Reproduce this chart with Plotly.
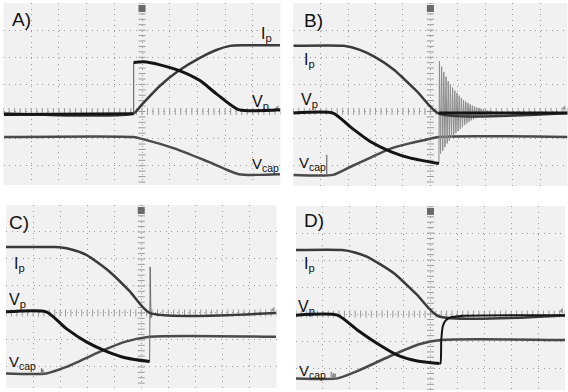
import numpy as np
import plotly.graph_objects as go

# ---------------- data (oscilloscope divisions) ----------------
# Panel A
a_vp_x = [-4.98, -0.30, -0.30, 0.05, 0.65, 1.37, 2.09, 2.69, 3.48, 4.98]
a_vp_y = [-0.11, -0.08, 1.81, 1.83, 1.72, 1.50, 1.14, 0.65, 0.07, 0.06]
a_ip_x = [-4.98, -0.30, 0.0, 0.65, 1.32, 2.09, 2.64, 3.18, 3.72, 4.98]
a_ip_y = [-0.07, -0.07, 0.26, 0.95, 1.50, 1.98, 2.25, 2.42, 2.44, 2.44]
a_vc_x = [-4.98, -0.31, 0.0, 1.19, 2.41, 3.49, 4.98]
a_vc_y = [-0.94, -0.94, -1.01, -1.37, -1.86, -2.31, -2.31]

# Panel B
b_ip_x = [-5.0, -3.16, -2.57, -2.03, -1.33, -0.48, 0.31, 5.0]
b_ip_y = [2.42, 2.42, 2.27, 2.01, 1.54, 0.73, -0.08, -0.06]
b_vp_x = [-5.0, -3.55, -2.91, -2.18, -1.45, -0.72, 0.31]
b_vp_y = [-0.06, -0.06, -0.58, -1.12, -1.48, -1.72, -1.92]
b_ring_x = [0.31, 0.33, 0.37, 0.41, 0.45, 0.49, 0.53, 0.57, 0.61, 0.65, 0.69, 0.73,
            0.77, 0.81, 0.85, 0.89, 0.93, 0.97, 1.01, 1.05, 1.09, 1.13, 1.17, 1.21,
            1.25, 1.29, 1.33, 1.37, 1.41, 1.45, 1.49, 1.53, 1.57, 1.61, 1.65, 1.69,
            1.73, 1.77, 1.81, 1.85, 1.89, 1.93, 1.97, 2.01, 2.05, 2.09, 2.13, 2.17,
            2.21, 2.25, 2.29, 2.35]
b_ring_y = [-1.92, 1.85, -1.55, 1.65, -1.45, 1.45, -1.32, 1.28, -1.18, 1.12, -1.08, 1.0,
            -0.98, 0.88, -0.88, 0.77, -0.8, 0.68, -0.72, 0.58, -0.65, 0.5, -0.58, 0.42,
            -0.5, 0.36, -0.44, 0.31, -0.38, 0.26, -0.33, 0.22, -0.29, 0.18, -0.25, 0.15,
            -0.21, 0.12, -0.18, 0.10, -0.16, 0.08, -0.14, 0.06, -0.12, 0.04, -0.10, 0.02,
            -0.09, 0.0, -0.08, -0.06]
b_vp2_x = [0.31, 5.0]
b_vp2_y = [-0.06, -0.06]
b_vc_x = [-5.0, -3.55, -2.91, -2.18, -1.45, -0.72, -0.24, 0.31, 5.0]
b_vc_y = [-2.34, -2.34, -2.04, -1.70, -1.37, -1.17, -1.06, -0.94, -0.94]
b_spk_x = [-3.79, -3.78, -3.77]
b_spk_y = [-2.34, -1.60, -2.34]

# Panel C
c_ip_x = [-5.02, -3.2, -2.65, -2.03, -1.17, -0.43, 0.31, 4.98]
c_ip_y = [2.44, 2.44, 2.37, 2.15, 1.53, 0.81, 0.0, 0.0]
c_vp_x = [-5.02, -3.51, -2.77, -2.03, -1.29, -0.55, 0.31]
c_vp_y = [0.04, 0.04, -0.58, -1.07, -1.42, -1.67, -1.80]
c_jmp_x = [0.31, 0.33, 0.36, 0.40]
c_jmp_y = [-1.80, 1.71, -0.18, 0.0]
c_vc_x = [-5.02, -3.51, -2.77, -1.54, -0.61, 0.31, 4.98]
c_vc_y = [-2.24, -2.24, -2.0, -1.44, -1.07, -0.88, -0.88]
c_spk_x = [-3.70, -3.69, -3.66, -3.64, -3.62]
c_spk_y = [-2.24, -2.04, -2.24, -2.08, -2.24]

# Panel D
d_ip_x = [-5.0, -3.28, -2.81, -2.35, -1.36, -0.49, 0.28, 5.0]
d_ip_y = [2.37, 2.37, 2.28, 2.12, 1.51, 0.70, -0.07, -0.05]
d_vp_x = [-5.0, -3.46, -2.72, -1.98, -1.23, -0.49, 0.32]
d_vp_y = [-0.04, -0.04, -0.59, -1.09, -1.52, -1.74, -1.83]
d_rec_x = [0.32, 0.37, 0.40, 0.46, 0.58, 0.80, 1.28, 5.0]
d_rec_y = [-1.83, -1.82, -0.96, -0.44, -0.22, -0.11, -0.06, -0.04]
d_vc_x = [-5.0, -3.46, -2.72, -1.51, -0.39, 0.38, 5.0]
d_vc_y = [-2.38, -2.38, -2.11, -1.56, -1.11, -0.96, -0.96]
d_spk_x = [-3.70, -3.69, -3.62, -3.60, -3.55, -3.53]
d_spk_y = [-2.38, -2.14, -2.38, -2.18, -2.38, -2.20]

panel_names = ["A)", "B)", "C)", "D)"]

# ---------------- styling / layout ----------------
W, H = 568, 392
VP = "#141414"
IP = "#3a3a3a"
VC = "#4a4a4a"
THIN = "#808080"
GRID = "#9a9a9a"
FONT = "Liberation Sans, Arial, sans-serif"

# pixel boxes of the four screens: (left, right, top, bottom), y-range
boxes = [
    ((3.5, 280.5, 3, 185), (-2.71, 4.0)),
    ((293.3, 567.5, 3, 186), (-2.75, 4.0)),
    ((6, 276.5, 205, 388), (-2.78, 4.0)),
    ((296, 565, 206, 390), (-2.81, 4.0)),
]

fig = go.Figure()

def ax(i):
    return ("x" if i == 0 else f"x{i+1}"), ("y" if i == 0 else f"y{i+1}")

def line(i, xs, ys, color, width, shape="spline"):
    xa, ya = ax(i)
    fig.add_trace(go.Scatter(x=xs, y=ys, mode="lines", xaxis=xa, yaxis=ya,
                             line=dict(color=color, width=width, shape=shape,
                                       smoothing=0.6 if shape == "spline" else None),
                             hoverinfo="skip", showlegend=False))

layout = dict(width=W, height=H, margin=dict(l=0, r=0, t=0, b=0),
              paper_bgcolor="white", plot_bgcolor="#f1f1f1", showlegend=False)

for i, ((l, r, t, b), yr) in enumerate(boxes):
    xa, ya = ax(i)
    xkey = "xaxis" if i == 0 else f"xaxis{i+1}"
    ykey = "yaxis" if i == 0 else f"yaxis{i+1}"
    layout[xkey] = dict(domain=[l / W, r / W], range=[-5, 5], anchor=ya,
                        tickvals=list(range(-5, 6)), showticklabels=False, ticks="",
                        showgrid=True, gridcolor=GRID, gridwidth=1,
                        griddash="1px,4.5px", zeroline=False, showline=False,
                        fixedrange=True)
    layout[ykey] = dict(domain=[1 - b / H, 1 - t / H], range=list(yr), anchor=xa,
                        tickvals=list(range(-3, 5)), showticklabels=False, ticks="",
                        showgrid=True, gridcolor=GRID, gridwidth=1,
                        griddash="1px,4.5px", zeroline=False, showline=False,
                        fixedrange=True)
    # graticule centre-line tick marks
    tx = np.arange(-5, 5.01, 0.2)
    fig.add_trace(go.Scatter(x=tx, y=np.zeros_like(tx), mode="markers", xaxis=xa, yaxis=ya,
                             marker=dict(symbol="line-ns-open", size=5, color=GRID,
                                         line=dict(color=GRID, width=1)),
                             hoverinfo="skip", showlegend=False))
    ty = np.arange(-3, 4.01, 0.2)
    fig.add_trace(go.Scatter(x=np.zeros_like(ty), y=ty, mode="markers", xaxis=xa, yaxis=ya,
                             marker=dict(symbol="line-ew-open", size=5, color=GRID,
                                         line=dict(color=GRID, width=1)),
                             hoverinfo="skip", showlegend=False))
    # trigger marker and ground marker
    fig.add_trace(go.Scatter(x=[0], y=[3.8], mode="markers", xaxis=xa, yaxis=ya,
                             marker=dict(symbol="square", size=7, color="#6a6a6a"),
                             hoverinfo="skip", showlegend=False))
    fig.add_trace(go.Scatter(x=[4.88], y=[0.12], mode="markers", xaxis=xa, yaxis=ya,
                             marker=dict(symbol="triangle-left", size=5, color="#9a9a9a"),
                             hoverinfo="skip", showlegend=False))

# Panel A traces
line(0, a_vc_x, a_vc_y, VC, 2.5)
line(0, a_ip_x, a_ip_y, IP, 2.5)
line(0, a_vp_x[:2], a_vp_y[:2], VP, 3, "linear")
line(0, a_vp_x[1:3], a_vp_y[1:3], "#555555", 1, "linear")
line(0, a_vp_x[2:], a_vp_y[2:], VP, 3)

# Panel B traces
line(1, b_vc_x, b_vc_y, VC, 2.5)
line(1, b_spk_x, b_spk_y, THIN, 1, "linear")
line(1, b_ring_x, b_ring_y, "#8c8c8c", 1, "linear")
line(1, b_ip_x, b_ip_y, IP, 2.5)
line(1, b_vp_x, b_vp_y, VP, 3)
line(1, b_vp2_x, b_vp2_y, VP, 3, "linear")

# Panel C traces
line(2, c_vc_x, c_vc_y, VC, 2.5)
line(2, c_spk_x, c_spk_y, THIN, 1, "linear")
line(2, c_jmp_x, c_jmp_y, "#6a6a6a", 1, "linear")
line(2, c_ip_x, c_ip_y, IP, 2.5)
line(2, c_vp_x, c_vp_y, VP, 3)

# Panel D traces
line(3, d_vc_x, d_vc_y, VC, 2.5)
line(3, d_spk_x, d_spk_y, THIN, 1, "linear")
line(3, d_ip_x, d_ip_y, IP, 2.5)
line(3, d_vp_x, d_vp_y, VP, 3)
line(3, d_rec_x, d_rec_y, VP, 2, "spline")

# ---------------- labels ----------------
ann = []
def lab(i, x, y, text, size):
    xa, ya = ax(i)
    ann.append(dict(x=x, y=y, xref=xa, yref=ya, text=text, showarrow=False,
                    xanchor="left", yanchor="middle",
                    font=dict(family=FONT, size=size, color="#111111")))

label_pos = [
    ((-4.77, 3.38), (4.22, 2.83), (3.90, 0.33), (3.90, -1.94)),
    ((-4.69, 3.37), (-4.69, 1.88), (-4.80, 0.40), (-4.87, -1.91)),
    ((-4.98, 3.37), (-4.76, 1.80), (-4.98, 0.48), (-4.98, -1.85)),
    ((-4.78, 3.48), (-4.78, 1.84), (-5.00, 0.26), (-4.96, -2.11)),
]
for i, (pn, pi, pv, pc) in enumerate(label_pos):
    lab(i, pn[0], pn[1], panel_names[i], 19)
    lab(i, pi[0], pi[1], "I<sub>p</sub>", 16)
    lab(i, pv[0], pv[1], "V<sub>p</sub>", 16)
    lab(i, pc[0], pc[1], "V<sub>cap</sub>", 15)

layout["annotations"] = ann
fig.update_layout(**layout)
fig.write_html("out.html", config={"displayModeBar": False},
               post_script="document.body.style.margin='0';document.body.style.padding='0';")
